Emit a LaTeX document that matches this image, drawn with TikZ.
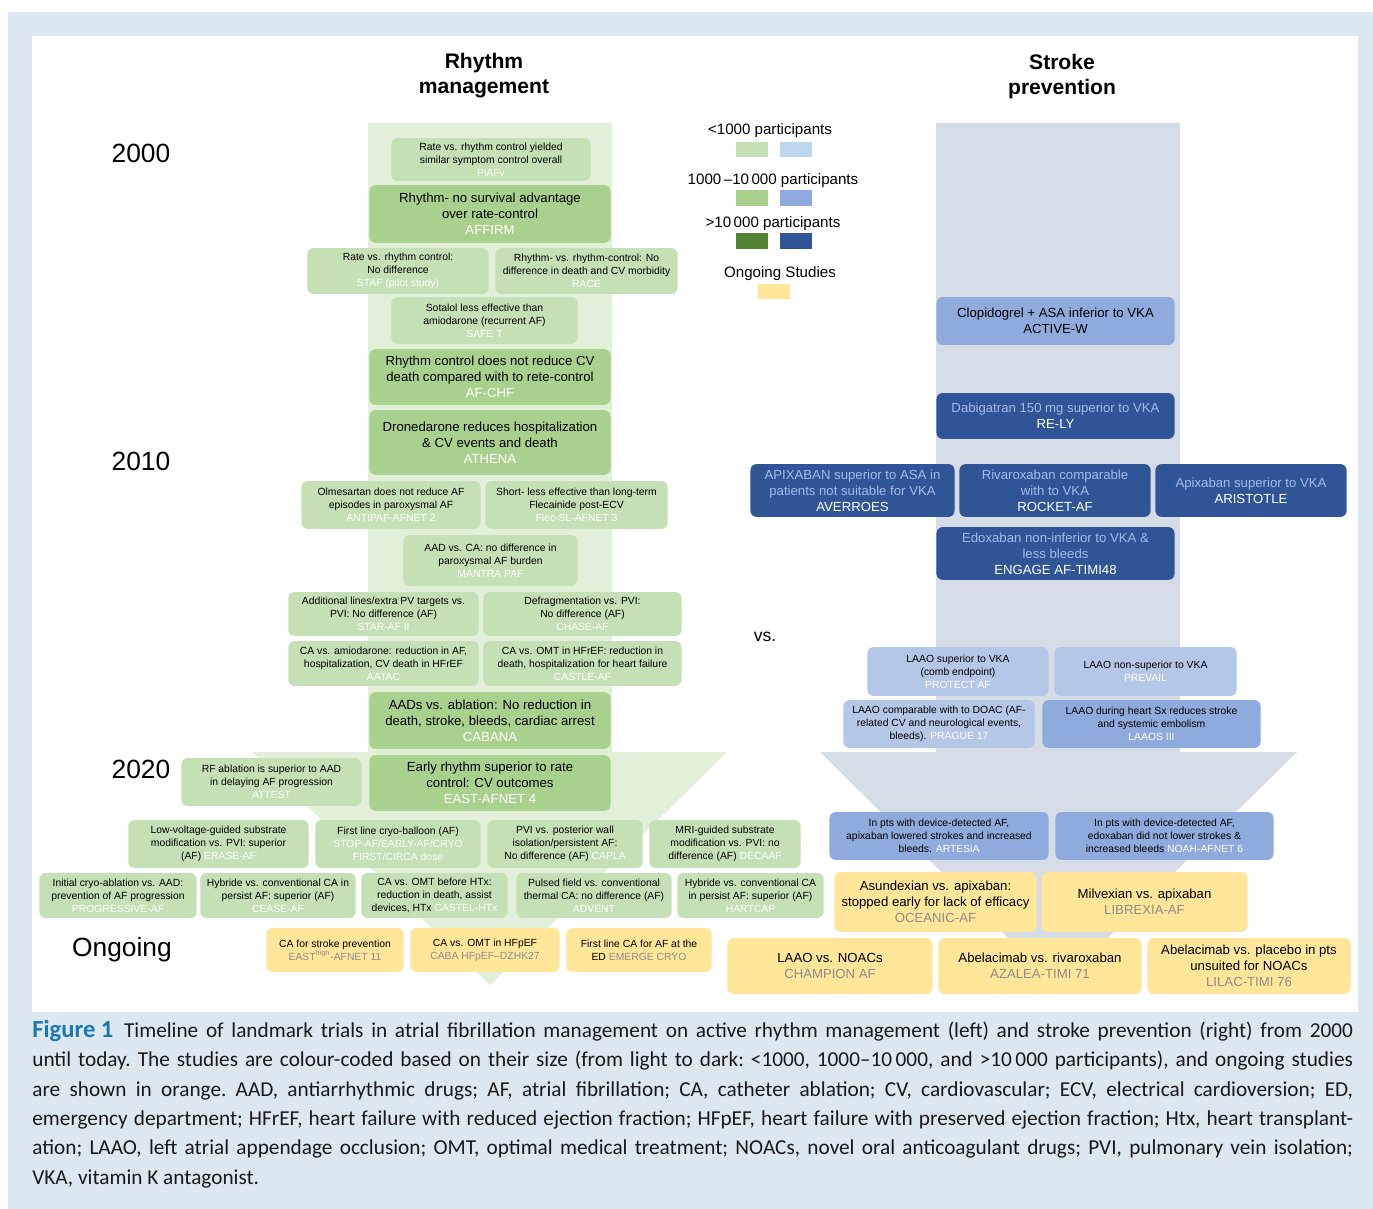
\documentclass[tikz,border=0pt]{standalone}
\usepackage{fontspec}
\setmainfont{Liberation Sans}
\newfontfamily\capfont{Carlito}
\usepackage{tikz}
\usetikzlibrary{positioning}

\definecolor{glight}{HTML}{C5E0B4}
\definecolor{gmid}{HTML}{A9D18E}
\definecolor{gdark}{HTML}{548235}
\definecolor{gstrip}{HTML}{E2F0D9}
\definecolor{blight}{HTML}{BDD7EE}
\definecolor{blaao}{HTML}{B4C7E7}
\definecolor{bmid}{HTML}{8FAADC}
\definecolor{bdark}{HTML}{2F5597}
\definecolor{bpale}{HTML}{A4BAE6}
\definecolor{bstrip}{HTML}{D6DCE5}
\definecolor{ongo}{HTML}{FFE699}
\definecolor{trgray}{HTML}{8C8C8C}
\definecolor{framebg}{HTML}{DDE7F0}
\definecolor{figblue}{HTML}{1B78B4}

\newcommand{\trw}[1]{\textcolor{white}{#1}}
\newcommand{\trg}[1]{\textcolor{trgray}{#1}}

\begin{document}
\begin{tikzpicture}[x=0.02cm,y=-0.02cm,
  trial/.style={rounded corners=3.5pt,align=center,inner sep=1pt},
  wh/.style 2 args={minimum width=#1*0.5669pt,minimum height=#2*0.5669pt},
  small/.style={font=\fontsize{5.9}{7.3}\selectfont},
  big/.style={font=\fontsize{7.5}{9}\selectfont},
  lg/.style={trial,small,fill=glight},
  mg/.style={trial,big,fill=gmid},
  lb/.style={trial,small,fill=blaao},
  mb/.style={trial,small,fill=bmid},
  mbb/.style={trial,big,fill=bmid},
  db/.style={trial,big,fill=bdark,text=bpale},
  og/.style={trial,small,fill=ongo},
  ogb/.style={trial,big,fill=ongo},
  year/.style={font=\fontsize{15}{18}\selectfont},
  head/.style={font=\bfseries\fontsize{12}{14.2}\selectfont,align=center},
  legtxt/.style={font=\fontsize{8.6}{10}\selectfont},
  swatch/.style={wh={32}{16},inner sep=0}
]
\useasboundingbox (0,0) rectangle (1373,1209);
\fill[white] (0,0) rectangle (1373,1209);
\fill[framebg] (8,12) rectangle (1373,1209);
\fill[white] (32,36) rectangle (1358,1012);

% timeline arrows
\fill[gstrip] (368,123) -- (612,123) -- (612,752) -- (727,752) -- (490,985)
  -- (252,752) -- (368,752) -- cycle;
\fill[bstrip] (936,123) -- (1180,123) -- (1180,752) -- (1297,752) -- (1058,987)
  -- (820,752) -- (936,752) -- cycle;

\node[head] (hrhythm) at (484,76) {Rhythm\\management};
\node[head] (hstroke) at (1062,77) {Stroke\\prevention};

\node[year] (y2000) at (141,153) {2000};
\node[year] (y2010) at (141,461) {2010};
\node[year] (y2020) at (141,769) {2020};
\node[year] (yongo) at (122,950) {Ongoing};
\node[font=\fontsize{10}{12}\selectfont] (vs) at (765,637) {vs.};

% legend
\node[legtxt] (leg1) at (770,131) {<1000 participants};
\node[swatch,fill=glight] (sw1g) at (752,149.5) {};
\node[swatch,fill=blight] (sw1b) at (796,149.5) {};
\node[legtxt] (leg2) at (773,181) {1000\,–10\,000 participants};
\node[swatch,fill=gmid] (sw2g) at (752,198) {};
\node[swatch,fill=bmid] (sw2b) at (796,198) {};
\node[legtxt] (leg3) at (773,224) {>10\,000 participants};
\node[swatch,fill=gdark] (sw3g) at (752,241) {};
\node[swatch,fill=bdark] (sw3b) at (796,241) {};
\node[legtxt] (leg4) at (780,274) {Ongoing Studies};
\node[swatch,fill=ongo] (sw4) at (774,291.5) {};

% rhythm management
\node[lg,wh={200}{43}] (piafv) at (491,159.5) {Rate vs. rhythm control yielded\\similar symptom control overall\\\trw{PiAFv}};
\node[mg,wh={242}{58}] (affirm) at (490,214) {Rhythm- no survival advantage\\over rate-control\\\trw{AFFIRM}};
\node[lg,wh={182}{46}] (staf) at (398,271) {Rate vs. rhythm control:\\No difference\\\trw{STAF (pilot study)}};
\node[lg,wh={183}{46}] (race) at (586.5,271) {Rhythm- vs. rhythm-control: No\\difference in death and CV morbidity\\\trw{RACE}};
\node[lg,wh={187}{47}] (safet) at (484.5,320.5) {Sotalol less effective than\\amiodarone (recurrent AF)\\\trw{SAFE T}};
\node[mg,wh={242}{56}] (afchf) at (490,377) {Rhythm control does not reduce CV\\death compared with to rete-control\\\trw{AF-CHF}};
\node[mg,wh={242}{65}] (athena) at (490,442.5) {Dronedarone reduces hospitalization\\\& CV events and death\\\trw{ATHENA}};
\node[lg,wh={180}{48}] (antipaf) at (391,505) {Olmesartan does not reduce AF\\episodes in paroxysmal AF\\\trw{ANTIPAF-AFNET 2}};
\node[lg,wh={183}{48}] (flecsl) at (576.5,505) {Short- less effective than long-term\\Flecainide post-ECV\\\trw{Flec-SL-AFNET 3}};
\node[lg,wh={175}{51}] (mantra) at (490.5,560.5) {AAD vs. CA: no difference in\\paroxysmal AF burden\\\trw{MANTRA PAF}};
\node[lg,wh={191}{44}] (staraf) at (383.5,614) {Additional lines/extra PV targets vs.\\PVI: No difference (AF)\\\trw{STAR-AF II}};
\node[lg,wh={199}{44}] (chase) at (582.5,614) {Defragmentation vs. PVI:\\No difference (AF)\\\trw{CHASE-AF}};
\node[lg,wh={191}{45}] (aatac) at (383.5,663.5) {CA vs. amiodarone: reduction in AF,\\hospitalization, CV death in HFrEF\\\trw{AATAC}};
\node[lg,wh={199}{45}] (castle) at (582.5,663.5) {CA vs. OMT in HFrEF: reduction in\\death, hospitalization for heart failure\\\trw{CASTLE-AF}};
\node[mg,wh={242}{57}] (cabana) at (490,720.5) {AADs vs. ablation: No reduction in\\death, stroke, bleeds, cardiac arrest\\\trw{CABANA}};
\node[mg,wh={242}{56}] (east4) at (490,783) {Early rhythm superior to rate\\control: CV outcomes\\\trw{EAST-AFNET 4}};
\node[lg,wh={181}{48}] (attest) at (271.5,782) {RF ablation is superior to AAD\\in delaying AF progression\\\trw{ATTEST}};
\node[lg,wh={181}{48}] (erase) at (218.5,844) {Low-voltage-guided substrate\\modification vs. PVI: superior\\(AF) \trw{ERASE-AF}};
\node[lg,wh={166}{48}] (stopaf) at (398,844) {First line cryo-balloon (AF)\\\trw{STOP-AF/EARLY-AF/CRYO}\\\trw{FIRST/CIRCA dose}};
\node[lg,wh={156}{48}] (capla) at (565,844) {PVI vs. posterior wall\\isolation/persistent AF:\\No difference (AF) \trw{CAPLA}};
\node[lg,wh={152}{48}] (decaaf) at (725,844) {MRI-guided substrate\\modification vs. PVI: no\\difference (AF) \trw{DECAAF}};
\node[lg,wh={158}{45}] (progaf) at (118,895.5) {Initial cryo-ablation vs. AAD:\\prevention of AF progression\\\trw{PROGRESSIVE-AF}};
\node[lg,wh={156}{45}] (ceaseaf) at (278,895.5) {Hybride vs. conventional CA in\\persist AF: superior (AF)\\\trw{CEASE-AF}};
\node[lg,wh={147}{45}] (castel) at (434.5,895.5) {CA vs. OMT before HTx:\\reduction in death, assist\\devices, HTx \trw{CASTEL-HTx}};
\node[lg,wh={156}{45}] (advent) at (594,895.5) {Pulsed field vs. conventional\\thermal CA: no difference (AF)\\\trw{ADVENT}};
\node[lg,wh={147}{45}] (hartcap) at (750.5,895.5) {Hybride vs. conventional CA\\in persist AF: superior (AF)\\\trw{HARTCAP}};
\node[og,wh={138}{44}] (east11) at (335,950) {CA for stroke prevention\\\trg{EAST\textsuperscript{high}-AFNET 11}};
\node[og,wh={150}{44}] (caba) at (485,950) {CA vs. OMT in HFpEF\\\trg{CABA HFpEF--DZHK27}};
\node[og,wh={146}{44}] (emerge) at (639,950) {First line CA for AF at the\\ED \trg{EMERGE CRYO}};

% stroke prevention
\node[mbb,wh={239}{48}] (activew) at (1055.5,321) {Clopidogrel + ASA inferior to VKA\\ACTIVE-W};
\node[db,wh={239}{46}] (rely) at (1055.5,416) {Dabigatran 150 mg superior to VKA\\\trw{RE-LY}};
\node[db,wh={205}{53}] (averroes) at (852.5,490.5) {APIXABAN superior to ASA in\\patients not suitable for VKA\\\trw{AVERROES}};
\node[db,wh={192}{53}] (rocket) at (1055,490.5) {Rivaroxaban comparable\\with to VKA\\\trw{ROCKET-AF}};
\node[db,wh={192}{53}] (aristotle) at (1251,490.5) {Apixaban superior to VKA\\\trw{ARISTOTLE}};
\node[db,wh={239}{53}] (engage) at (1055.5,553.5) {Edoxaban non-inferior to VKA \&\\less bleeds\\\trw{ENGAGE AF-TIMI48}};
\node[lb,wh={182}{49}] (protect) at (958,671.5) {LAAO superior to VKA\\(comb endpoint)\\\trw{PROTECT AF}};
\node[lb,wh={183}{49}] (prevail) at (1145.5,671.5) {LAAO non-superior to VKA\\\trw{PREVAIL}};
\node[lb,wh={192}{48}] (prague) at (939,724) {LAAO comparable with to DOAC (AF-\\related CV and neurological events,\\bleeds). \trw{PRAGUE 17}};
\node[mb,wh={219}{48}] (laaos) at (1151.5,724) {LAAO during heart Sx reduces stroke\\and systemic embolism\\\trw{LAAOS III}};
\node[mb,wh={220}{48}] (artesia) at (939,836) {In pts with device-detected AF,\\apixaban lowered strokes and increased\\bleeds. \trw{ARTESiA}};
\node[mb,wh={219}{48}] (noah) at (1164.5,836) {In pts with device-detected AF,\\edoxaban did not lower strokes \&\\increased bleeds \trw{NOAH-AFNET 6}};
\node[ogb,wh={203}{60}] (oceanic) at (935.5,902) {Asundexian vs. apixaban:\\stopped early for lack of efficacy\\\trg{OCEANIC-AF}};
\node[ogb,wh={207}{60}] (librexia) at (1144.5,902) {Milvexian vs. apixaban\\\trg{LIBREXIA-AF}};
\node[ogb,wh={206}{56}] (champion) at (830,966) {LAAO vs. NOACs\\\trg{CHAMPION AF}};
\node[ogb,wh={204}{56}] (azalea) at (1040,966) {Abelacimab vs. rivaroxaban\\\trg{AZALEA-TIMI 71}};
\node[ogb,wh={204}{56}] (lilac) at (1249,966) {Abelacimab vs. placebo in pts\\unsuited for NOACs\\\trg{LILAC-TIMI 76}};

% caption
\node[anchor=north west,inner sep=0,text width=751.7pt,align=justify,
  font=\capfont\fontsize{12.1}{16.7}\selectfont\frenchspacing,text=black!90] (caption) at (32,1020)
  {\hbox{\bfseries\fontsize{14}{16.7}\selectfont\color{figblue}Figure 1}\enspace Timeline of landmark trials in atrial fibrillation management on active rhythm management (left) and stroke prevention (right) from 2000\linebreak
  until today. The studies are colour-coded based on their size (from light to dark: <1000, 1000–10\,000, and >10\,000 participants), and ongoing studies\linebreak
  are shown in orange. AAD, antiarrhythmic drugs; AF, atrial fibrillation; CA, catheter ablation; CV, cardiovascular; ECV, electrical cardioversion; ED,\linebreak
  emergency department; HFrEF, heart failure with reduced ejection fraction; HFpEF, heart failure with preserved ejection fraction; Htx, heart transplant-\linebreak
  ation; LAAO, left atrial appendage occlusion; OMT, optimal medical treatment; NOACs, novel oral anticoagulant drugs; PVI, pulmonary vein isolation;\linebreak
  VKA, vitamin K antagonist.};
\end{tikzpicture}
\end{document}
